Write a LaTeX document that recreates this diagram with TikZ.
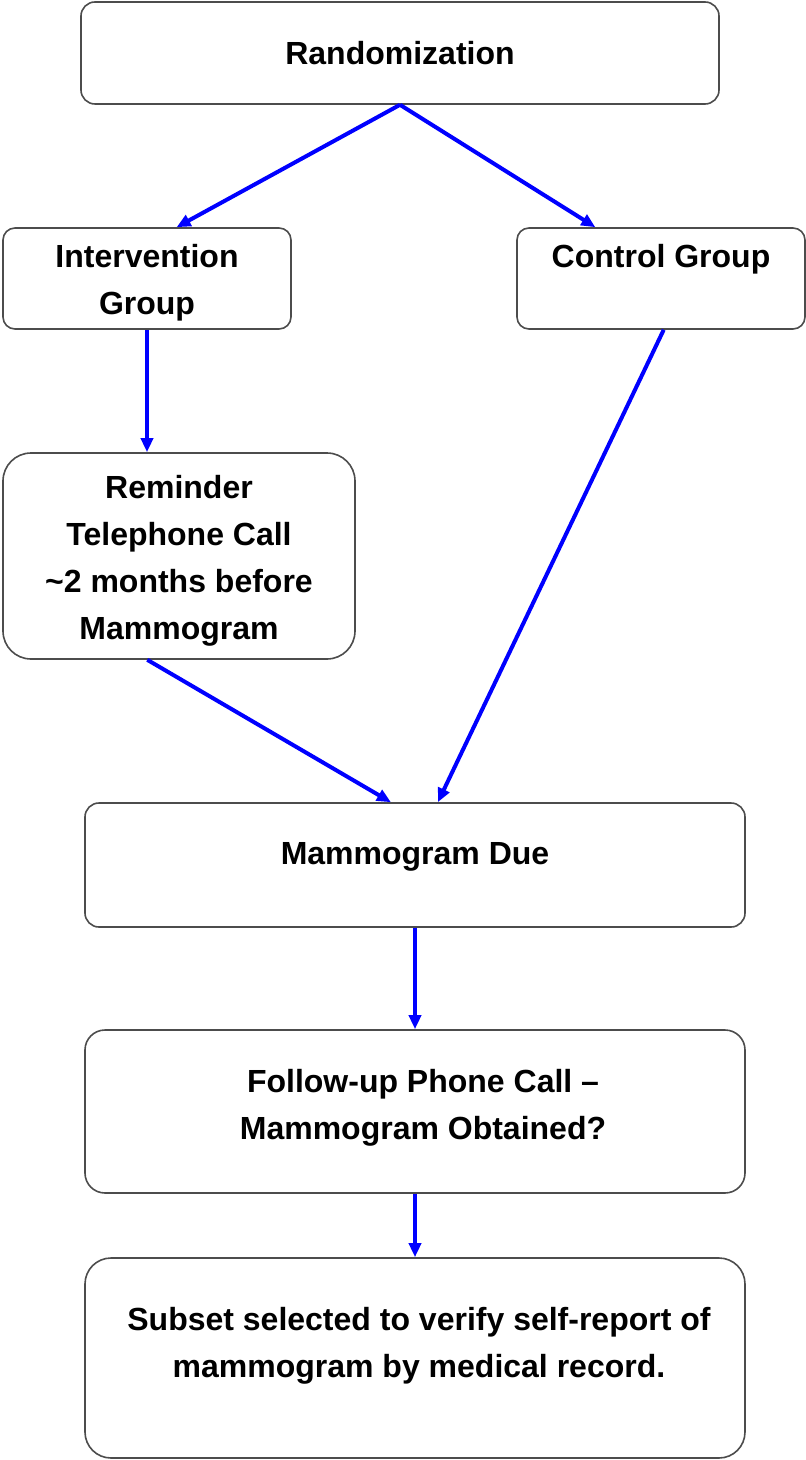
\documentclass[tikz,border=0pt]{standalone}
\usepackage{fontspec}
\setmainfont{Liberation Sans}
\usetikzlibrary{arrows.meta,positioning}
\tikzset{
  >={Triangle[length=7pt, width=6pt]},
  box/.style ={draw=black!70, line width=0.8pt, rounded corners=#1, inner sep=0pt},
  box/.default=7pt,
  txt/.style ={align=center, font=\fontsize{16}{23.5}\selectfont\bfseries, inner sep=0pt},
  flow/.style={->, draw=blue, line width=2pt}
}
\begin{document}
\begin{tikzpicture}[x=0.5pt, y=-0.5pt]
\useasboundingbox (0,0) rectangle (805,1460);
% top: randomization and the two groups
\node[box, minimum width=319pt, minimum height=51pt,
      label={[txt]center:Randomization}] (rand) at (400,53) {};
\node[box=6pt, minimum width=144pt, minimum height=50.5pt,
      label={[txt, yshift=-2pt]center:Intervention\\Group}] (interv) at (147,278.5) {};
\node[box=6pt, minimum width=144pt, minimum height=50.5pt,
      label={[txt, yshift=-2pt]center:Control Group\\\phantom{Group}}] (ctrl) at (661,278.5) {};
% reminder call, intervention only
\node[box=14pt, minimum width=176pt, minimum height=103pt,
      label={[txt, yshift=-2.5pt]center:Reminder\\Telephone Call\\\textasciitilde2 months before\\Mammogram}] (remind) at (179,556) {};
% common path
\node[box, minimum width=330pt, minimum height=62pt,
      label={[txt, yshift=4pt]center:Mammogram Due}] (due) at (415,865) {};
\node[box=10pt, minimum width=330pt, minimum height=81.5pt,
      label={[txt, xshift=4pt, yshift=2pt]center:Follow-up Phone Call --\\Mammogram Obtained?}] (follow) at (415,1111.5) {};
\node[box=13pt, minimum width=330pt, minimum height=100pt,
      label={[txt, xshift=2pt, yshift=6pt]center:Subset selected to verify self-report of\\mammogram by medical record.}] (subset) at (415,1358) {};

\draw[flow] (rand.south) -- (interv.60);
\draw[flow] (rand.south) -- (ctrl.142);
\draw[flow] (interv.south) -- (interv.south |- remind.north);
\draw[flow] (remind.253) -- (due.111);
\draw[flow] (ctrl.273) -- (due.70);
\draw[flow] (due.south) -- (follow.north);
\draw[flow] (follow.south) -- (subset.north);
\end{tikzpicture}
\end{document}
